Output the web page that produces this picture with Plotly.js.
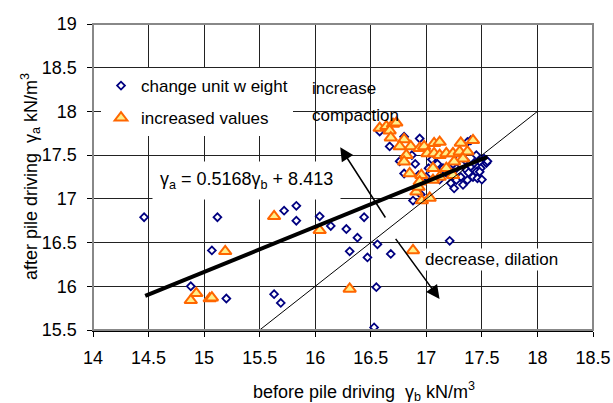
<!DOCTYPE html>
<html>
<head>
<meta charset="utf-8">
<script src="https://cdn.plot.ly/plotly-3.0.1.min.js"></script>
<style>html,body{margin:0;padding:0;background:#fff;}#chart{width:613px;height:403px;}</style>
</head>
<body>
<div id="chart"></div>
<script>
// change unit weight (diamonds): before (x) and after (y)
const changeX = [14.46,15.12,15.07,14.88,15.20,
  15.72,15.83,15.83,16.04,16.14,16.28,16.44,16.38,16.56,16.31,16.47,16.68,16.55,15.63,15.69,16.53,17.21,16.88,
  16.58,16.67,16.80,16.94,16.76,16.80,16.87,16.93,17.00,17.40,17.30,17.37,
  17.45,17.48,17.52,17.54,17.49,17.45,17.40,17.36,17.31,17.27,17.22,17.25,17.33,17.37,17.42,17.46,17.48,17.27,17.43,17.29,
  17.20,17.15,17.10,17.05,17.24,17.35,17.55,17.50,17.38,17.12,17.18,16.95,16.90,17.02];
const changeY = [16.79,16.79,16.41,16.00,15.86,
  16.865,16.92,16.75,16.80,16.69,16.655,16.79,16.556,16.48,16.40,16.33,16.37,15.99,15.91,15.81,15.53,16.52,16.98,
  17.77,17.60,17.71,17.69,17.43,17.29,17.50,17.27,17.25,17.67,17.52,17.65,
  17.50,17.425,17.46,17.41,17.35,17.31,17.37,17.33,17.25,17.215,17.18,17.12,17.16,17.215,17.25,17.235,17.31,17.35,17.41,17.46,
  17.28,17.35,17.40,17.45,17.40,17.44,17.43,17.22,17.30,17.22,17.30,17.05,17.40,17.35];

// increased values (triangles)
const incX = [14.93,14.88,15.05,15.07,15.19,15.63,16.04,16.31,16.88,16.96,17.03,16.91,16.93,
  16.58,16.64,16.70,16.73,16.67,16.68,16.80,16.76,16.86,16.82,16.80,16.85,16.94,16.98,16.955,16.94,
  17.01,17.07,17.12,17.07,17.12,17.18,17.24,17.31,17.42,17.30,17.37,17.33,17.25,17.06,17.18,17.24,17.12,17.06];
const incY = [15.92,15.84,15.86,15.87,16.40,16.80,16.64,15.97,16.41,16.98,17.01,17.08,17.135,
  17.81,17.83,17.856,17.87,17.78,17.70,17.68,17.60,17.60,17.50,17.425,17.29,17.58,17.60,17.27,17.196,
  17.52,17.635,17.65,17.52,17.50,17.52,17.52,17.64,17.67,17.54,17.54,17.46,17.425,17.35,17.35,17.27,17.25,17.215];

// regression line and 1:1 line end points
const fitX = [14.47, 17.55];
const fitY = [15.89, 17.48];
const oneX = [15.5, 18.0];
const oneY = [15.5, 18.0];

const xTicks = [14,14.5,15,15.5,16,16.5,17,17.5,18,18.5];
const xTickText = ['14','14.5','15','15.5','16','16.5','17','17.5','18','18.5'];
const yTicks = [15.5,16,16.5,17,17.5,18,18.5,19];
const yTickText = ['15.5','16','16.5','17','17.5','18','18.5','19'];

const xTitle = 'before pile driving  γ<sub>b</sub> kN/m<sup>3</sup>';
const yTitle = 'after pile driving  γ<sub>a</sub> kN/m<sup>3</sup>';

const FONT = 'Liberation Sans, Arial, sans-serif';

const traces = [
  {x: changeX, y: changeY, mode: 'markers', name: 'change unit w eight', legendgroup: 'a',
   marker: {symbol: 'diamond', size: 6, color: '#ffffff', line: {color: '#000080', width: 1.8}}},
  {x: incX, y: incY, mode: 'markers', name: 'increased values', legendgroup: 'b',
   marker: {symbol: 'triangle-up', size: 11, color: '#FFEE88', line: {color: '#FF6600', width: 2}}},
  {x: oneX, y: oneY, mode: 'lines', line: {color: '#000', width: 1}, showlegend: false, hoverinfo: 'skip'},
  {x: fitX, y: fitY, mode: 'lines', line: {color: '#000', width: 4}, showlegend: false, hoverinfo: 'skip'}
];

const layout = {
  width: 613, height: 403,
  margin: {l: 93, r: 20, t: 24, b: 73},
  paper_bgcolor: '#fff', plot_bgcolor: '#fff',
  font: {family: FONT, size: 18, color: '#000'},
  showlegend: true,
  legend: {x: 0.016, y: 0.856, xanchor: 'left', yanchor: 'top', bgcolor: '#fff',
    font: {family: FONT, size: 17, color: '#000'}, traceorder: 'grouped', tracegroupgap: 7,
    itemwidth: 30},
  xaxis: {range: [14, 18.5], tickvals: xTicks, ticktext: xTickText, showgrid: true, gridcolor: '#222', gridwidth: 1,
    zeroline: false, showline: true, linecolor: '#000', linewidth: 1.5, ticks: 'outside', ticklen: 5, tickcolor: '#000',
    ticklabelstandoff: 6, tickfont: {family: FONT, size: 18, color: '#000'}},
  yaxis: {range: [15.5, 19], tickvals: yTicks, ticktext: yTickText, showgrid: true, gridcolor: '#222', gridwidth: 1,
    zeroline: false, showline: true, linecolor: '#000', linewidth: 1.5, ticks: 'outside', ticklen: 5, tickcolor: '#000',
    ticklabelstandoff: 6, tickfont: {family: FONT, size: 18, color: '#000'}},
  shapes: [
    {type: 'rect', xref: 'paper', yref: 'paper', x0: 0, x1: 1, y0: 0, y1: 1, line: {color: '#888', width: 2}, layer: 'above'}
  ],
  annotations: [
    {x: 0.542, y: 0, xref: 'paper', yref: 'paper', yanchor: 'middle', yshift: -61, text: xTitle, showarrow: false,
     font: {family: FONT, size: 18, color: '#000'}},
    {x: 0, y: 0.5, xref: 'paper', yref: 'paper', xanchor: 'center', xshift: -63, textangle: -90, text: yTitle, showarrow: false,
     font: {family: FONT, size: 18, color: '#000'}},
    {x: 15.377, y: 17.21, xref: 'x', yref: 'y', text: 'γ<sub>a</sub> = 0.5168γ<sub>b</sub> + 8.413', showarrow: false,
     font: {family: FONT, size: 18, color: '#000'}, bgcolor: '#fff', borderpad: 7},
    {x: 15.949, y: 18.268, xref: 'x', yref: 'y', text: 'increase', showarrow: false, xanchor: 'left',
     font: {family: FONT, size: 17, color: '#000'}},
    {x: 15.949, y: 17.959, xref: 'x', yref: 'y', text: 'compaction', showarrow: false, xanchor: 'left',
     font: {family: FONT, size: 17, color: '#000'}},
    {x: 16.969, y: 16.309, xref: 'x', yref: 'y', text: 'decrease, dilation', showarrow: false, xanchor: 'left',
     font: {family: FONT, size: 17, color: '#000'}, bgcolor: '#fff', borderpad: 1},
    {x: 16.225, y: 17.59, ax: 16.64, ay: 16.77, xref: 'x', yref: 'y', axref: 'x', ayref: 'y', text: '',
     showarrow: true, arrowhead: 2, arrowsize: 1.8, arrowwidth: 1.5, arrowcolor: '#000'},
    {x: 17.119, y: 15.855, ax: 16.714, ay: 16.56, xref: 'x', yref: 'y', axref: 'x', ayref: 'y', text: '',
     showarrow: true, arrowhead: 2, arrowsize: 1.8, arrowwidth: 1.5, arrowcolor: '#000'}
  ]
};

Plotly.newPlot('chart', traces, layout, {displayModeBar: false, staticPlot: true});
</script>
</body>
</html>
